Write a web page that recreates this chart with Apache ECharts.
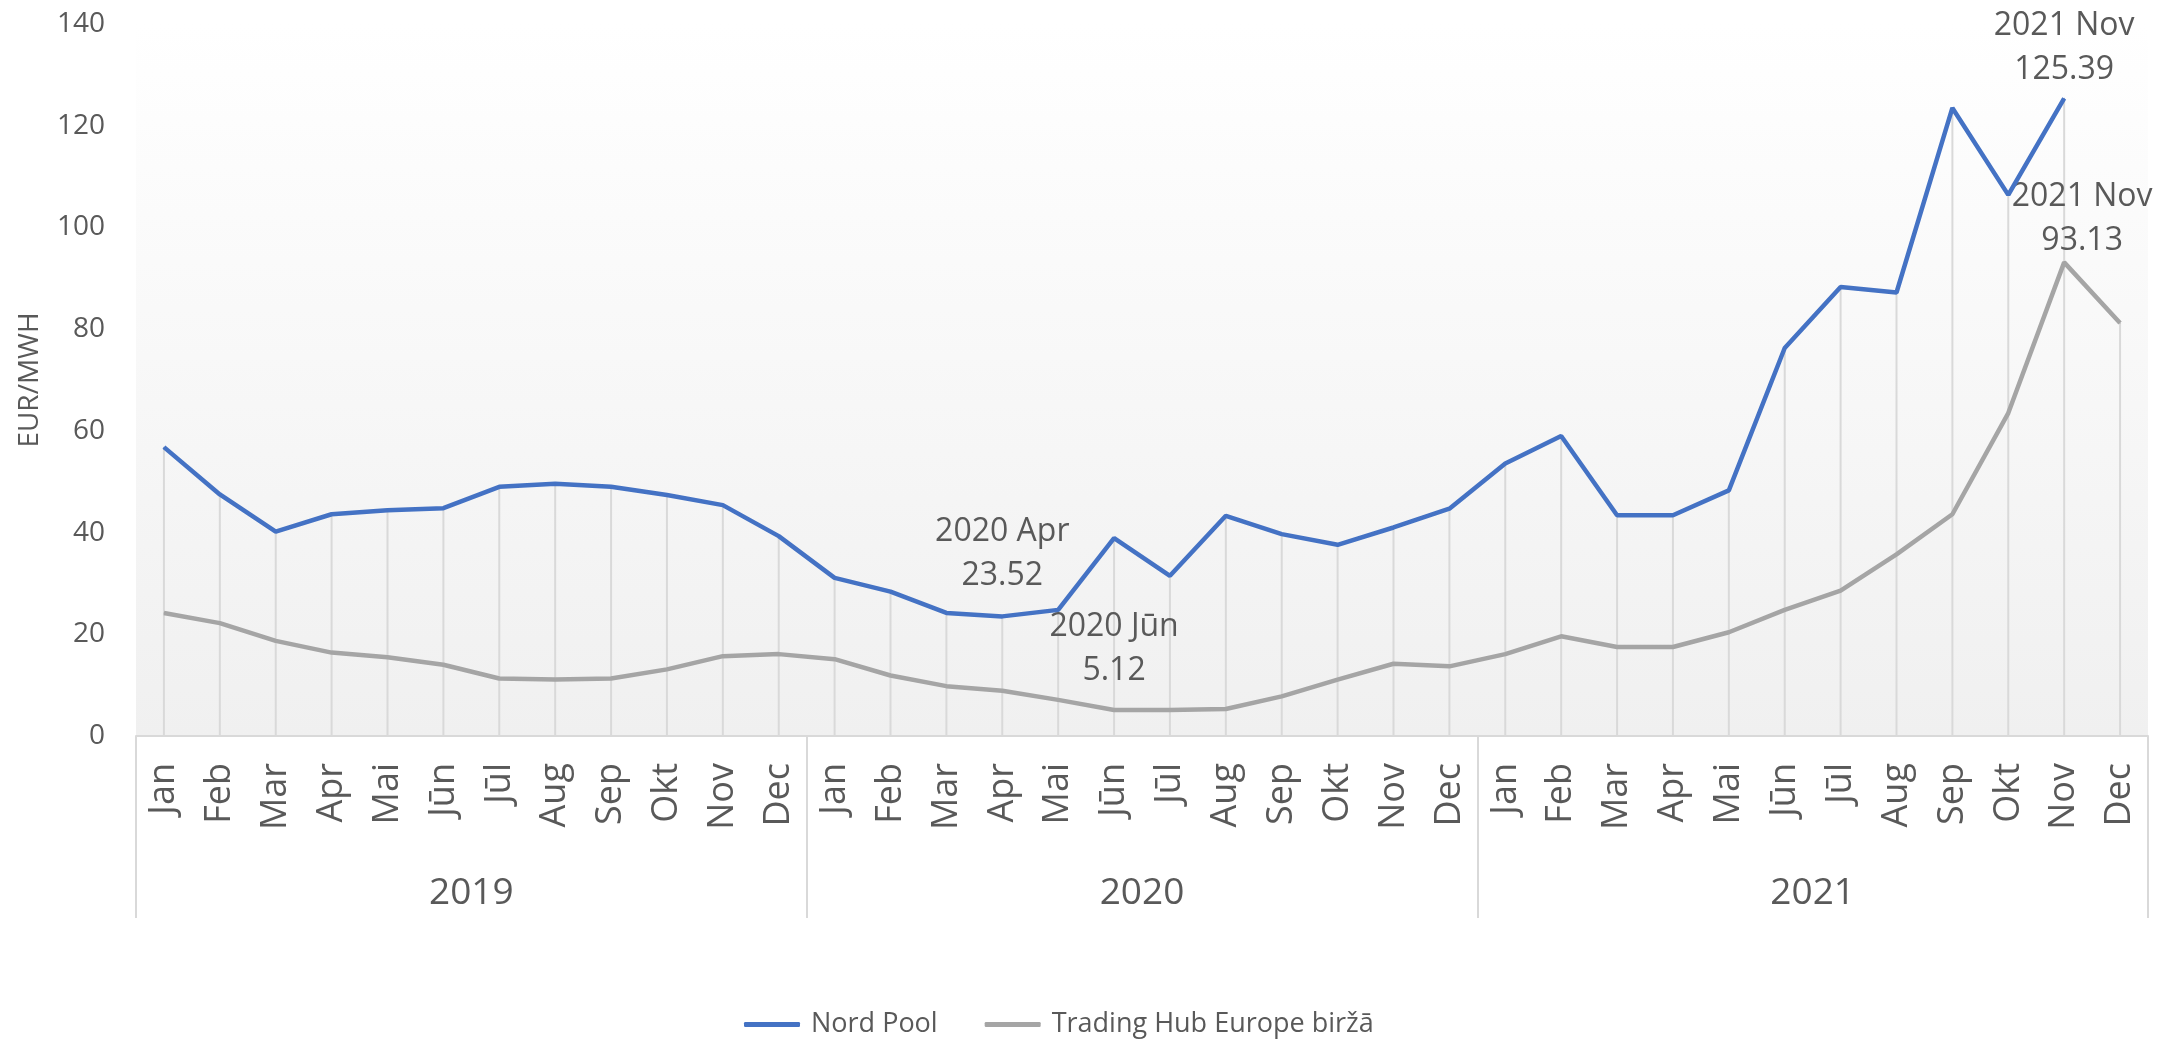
<!DOCTYPE html>
<html>
<head>
<meta charset="utf-8">
<script src="https://cdn.jsdelivr.net/npm/echarts@6/dist/echarts.min.js"></script>
<style>
    html, body { margin: 0; padding: 0; background: #fff; }
    #chart { width: 2159px; height: 1039px; }
</style>
</head>
<body>
<div id="chart"></div>
<script>
const years = ['2019', '2020', '2021'];
const months = ['Jan', 'Feb', 'Mar', 'Apr', 'Mai', 'Jūn', 'Jūl', 'Aug', 'Sep', 'Okt', 'Nov', 'Dec'];

// EUR/MWH, Jan 2019 .. Dec 2021
const nordPool = [
    56.8, 47.5, 40.2, 43.6, 44.4, 44.8, 49.0, 49.6, 49.0, 47.4, 45.4, 39.3,
    31.1, 28.4, 24.2, 23.52, 24.8, 38.9, 31.5, 43.3, 39.7, 37.6, 41.0, 44.7,
    53.6, 59.0, 43.4, 43.4, 48.3, 76.3, 88.3, 87.2, 123.5, 106.4, 125.39, null
];
const tradingHub = [
    24.2, 22.2, 18.7, 16.4, 15.5, 14.0, 11.3, 11.1, 11.3, 13.1, 15.7, 16.1,
    15.1, 11.9, 9.8, 8.9, 7.1, 5.12, 5.1, 5.3, 7.8, 11.1, 14.2, 13.7,
    16.1, 19.6, 17.5, 17.5, 20.4, 24.8, 28.6, 35.7, 43.6, 63.5, 93.13, 81.2
];

// points that carry a data label (index into the month list)
const nordPoolLabels = [15, 34];
const tradingHubLabels = [17, 34];

const yTicks = { min: 0, max: 140, interval: 20 };

let monthAxis = [];
years.forEach(() => months.forEach(m => monthAxis.push(m)));

let dropLines = nordPool.map((v, i) => Math.max(v == null ? 0 : v, tradingHub[i] == null ? 0 : tradingHub[i]));

const textColor = '#595959';
const font = '"Open Sans", "Noto Sans", sans-serif';

function pointName(i) {
    return `${years[Math.floor(i / 12)]} ${months[i % 12]}`;
}

function withLabels(values, labelIdx, labelStyle) {
    return values.map((v, i) => {
        if (!labelIdx.includes(i)) {
            return v;
        }
        let style = labelStyle[labelIdx.indexOf(i)];
        return {
            value: v,
            label: Object.assign({
                show: true,
                position: 'top',
                fontFamily: font,
                fontSize: 32,
                lineHeight: 44,
                color: textColor,
                formatter: () => `${pointName(i)}\n${v.toFixed(2)}`
            }, style)
        };
    });
}

let chart = echarts.init(document.getElementById('chart'), null, { renderer: 'canvas' });

chart.setOption({
    animation: false,
    backgroundColor: '#ffffff',
    grid: {
        left: 136,
        right: 11,
        top: 24,
        bottom: 303,
        show: true,
        borderWidth: 0,
        backgroundColor: {
            type: 'linear', x: 0, y: 0, x2: 0, y2: 1,
            colorStops: [
                { offset: 0, color: '#ffffff' },
                { offset: 1, color: '#f0f0f0' }
            ]
        }
    },
    legend: {
        data: ['Nord Pool', 'Trading Hub Europe biržā'],
        left: 739,
        top: 1006,
        icon: 'roundRect',
        itemWidth: 56,
        itemHeight: 5,
        itemGap: 47,
        textStyle: {
            fontFamily: font,
            fontSize: 27,
            color: textColor,
            padding: [0, 0, 0, 6]
        }
    },
    xAxis: [
        {
            type: 'category',
            data: monthAxis,
            boundaryGap: true,
            axisLine: { lineStyle: { color: '#d9d9d9', width: 2 } },
            axisTick: { show: false },
            splitLine: { show: false },
            axisLabel: {
                interval: 0,
                rotate: 90,
                margin: 27,
                fontFamily: font,
                fontSize: 36,
                color: textColor
            }
        },
        {
            type: 'category',
            data: years,
            position: 'bottom',
            offset: 182,
            boundaryGap: true,
            axisLine: { show: false },
            axisTick: {
                show: true,
                inside: true,
                length: 182,
                lineStyle: { color: '#d9d9d9', width: 2 }
            },
            axisLabel: {
                inside: true,
                margin: 6,
                fontFamily: font,
                fontSize: 37,
                color: textColor
            }
        }
    ],
    yAxis: {
        type: 'value',
        min: yTicks.min,
        max: yTicks.max,
        interval: yTicks.interval,
        name: 'EUR/MWH',
        nameLocation: 'middle',
        nameRotate: 90,
        nameGap: 92,
        nameTextStyle: { fontFamily: font, fontSize: 28, color: textColor },
        axisLine: { show: false },
        axisTick: { show: false },
        splitLine: { show: false },
        axisLabel: { margin: 31, fontFamily: font, fontSize: 28, color: textColor }
    },
    series: [
        {
            name: 'drop',
            type: 'bar',
            data: dropLines,
            barWidth: 2,
            itemStyle: { color: '#d9d9d9' },
            silent: true,
            z: 1
        },
        {
            name: 'Nord Pool',
            type: 'line',
            data: withLabels(nordPool, nordPoolLabels, [
                { distance: 18 },
                { distance: 6 }
            ]),
            symbol: 'circle',
            symbolSize: 1,
            itemStyle: { color: '#4472c4' },
            lineStyle: { color: '#4472c4', width: 4.5 },
            z: 3
        },
        {
            name: 'Trading Hub Europe biržā',
            type: 'line',
            data: withLabels(tradingHub, tradingHubLabels, [
                { distance: 17 },
                { distance: -1, offset: [18, 0] }
            ]),
            symbol: 'circle',
            symbolSize: 1,
            itemStyle: { color: '#a5a5a5' },
            lineStyle: { color: '#a5a5a5', width: 4.5 },
            z: 2
        }
    ]
});
</script>
</body>
</html>
